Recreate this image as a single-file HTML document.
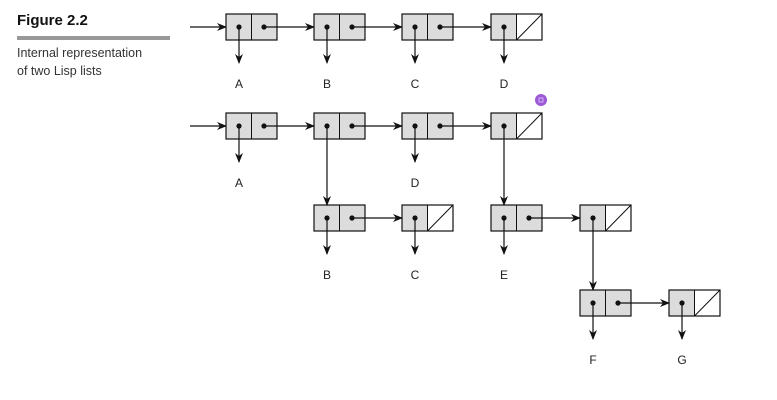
<!DOCTYPE html>
<html><head><meta charset="utf-8"><style>
body{margin:0;background:#fff;}
svg{display:block;font-family:"Liberation Sans",sans-serif;}
</style></head><body>
<svg id="fig" width="777" height="400" viewBox="0 0 777 400">
<defs><marker id="ah" markerWidth="10" markerHeight="8" refX="9" refY="4" orient="auto" markerUnits="userSpaceOnUse"><path d="M0,0 L10,4 L0,8 L3,4 z" fill="#111"/></marker></defs>
<text x="17" y="25" font-size="15" font-weight="bold" fill="#111">Figure 2.2</text>
<rect x="17" y="36" width="153" height="4" fill="#999"/>
<text x="17" y="57" font-size="12.5" fill="#333">Internal representation</text>
<text x="17" y="75" font-size="12.5" fill="#333">of two Lisp lists</text>
<circle cx="541" cy="100" r="6" fill="#9b59d6"/>
<rect x="539" y="98" width="4" height="4" fill="none" stroke="#e0c8ff" stroke-width="0.8"/>
</svg>
<script>
// cells: [x, y, nil, label, carArrowLen]
const cellX = [226,314,402,491, 226,314,402,491, 314,402,491,580, 580,669];
const cellY = [14,14,14,14, 113,113,113,113, 205,205,205,205, 290,290];
const cellNil = [0,0,0,1, 0,0,0,1, 0,1,0,1, 0,1];
const cellLabel = ['A','B','C','D','A','','D','','B','C','E','','F','G'];
// links: [from, to, type] type 'cdr' horizontal, 'car' vertical
const links = [[0,1,'cdr'],[1,2,'cdr'],[2,3,'cdr'],[4,5,'cdr'],[5,6,'cdr'],[6,7,'cdr'],[5,8,'car'],[7,10,'car'],[8,9,'cdr'],[10,11,'cdr'],[11,12,'car'],[12,13,'cdr']];
const W=51,H=26,ns="http://www.w3.org/2000/svg",svg=document.getElementById('fig');
function mk(t,a){const e=document.createElementNS(ns,t);for(const k in a)e.setAttribute(k,a[k]);svg.appendChild(e);return e;}
function line(x1,y1,x2,y2,name){const l=mk('line',{x1,y1,x2,y2,stroke:'#111','stroke-width':1.2,'marker-end':'url(#ah)'});

}
// entry arrows
line(190,27,226,27,'entry-arrow-list-1');
line(190,126,226,126,'entry-arrow-list-2');
cellX.forEach((x,i)=>{
  const y=cellY[i];
  const g=mk('g',{});
  
  
  mk('rect',{x,y,width:W/2,height:H,fill:'#dcdcdc',stroke:'none'});
  mk('rect',{x:x+W/2,y,width:W/2,height:H,fill:cellNil[i]?'#fff':'#dcdcdc',stroke:'none'});
  mk('rect',{x,y,width:W,height:H,fill:'none',stroke:'#111','stroke-width':1.2});
  mk('line',{x1:x+W/2,y1:y,x2:x+W/2,y2:y+H,stroke:'#111','stroke-width':1});
  if(cellNil[i]) mk('line',{x1:x+W/2,y1:y+H,x2:x+W,y2:y,stroke:'#111','stroke-width':1});
  mk('circle',{cx:x+13,cy:y+13,r:2.6,fill:'#111'});
  if(!cellNil[i]) mk('circle',{cx:x+38,cy:y+13,r:2.6,fill:'#111'});
  if(cellLabel[i]){
    line(x+13,y+13,x+13,y+49,'car-arrow-'+cellLabel[i]);
    const t=mk('text',{x:x+13,y:y+74,'font-size':12,'text-anchor':'middle',fill:'#222'});
    t.textContent=cellLabel[i];
    
    
  }
});
links.forEach(([a,b,t])=>{
  if(t==='cdr') line(cellX[a]+38,cellY[a]+13,cellX[b],cellY[b]+13,'cdr-arrow');
  else line(cellX[a]+13,cellY[a]+13,cellX[b]+13,cellY[b],'car-arrow');
});
</script>
</body></html>
